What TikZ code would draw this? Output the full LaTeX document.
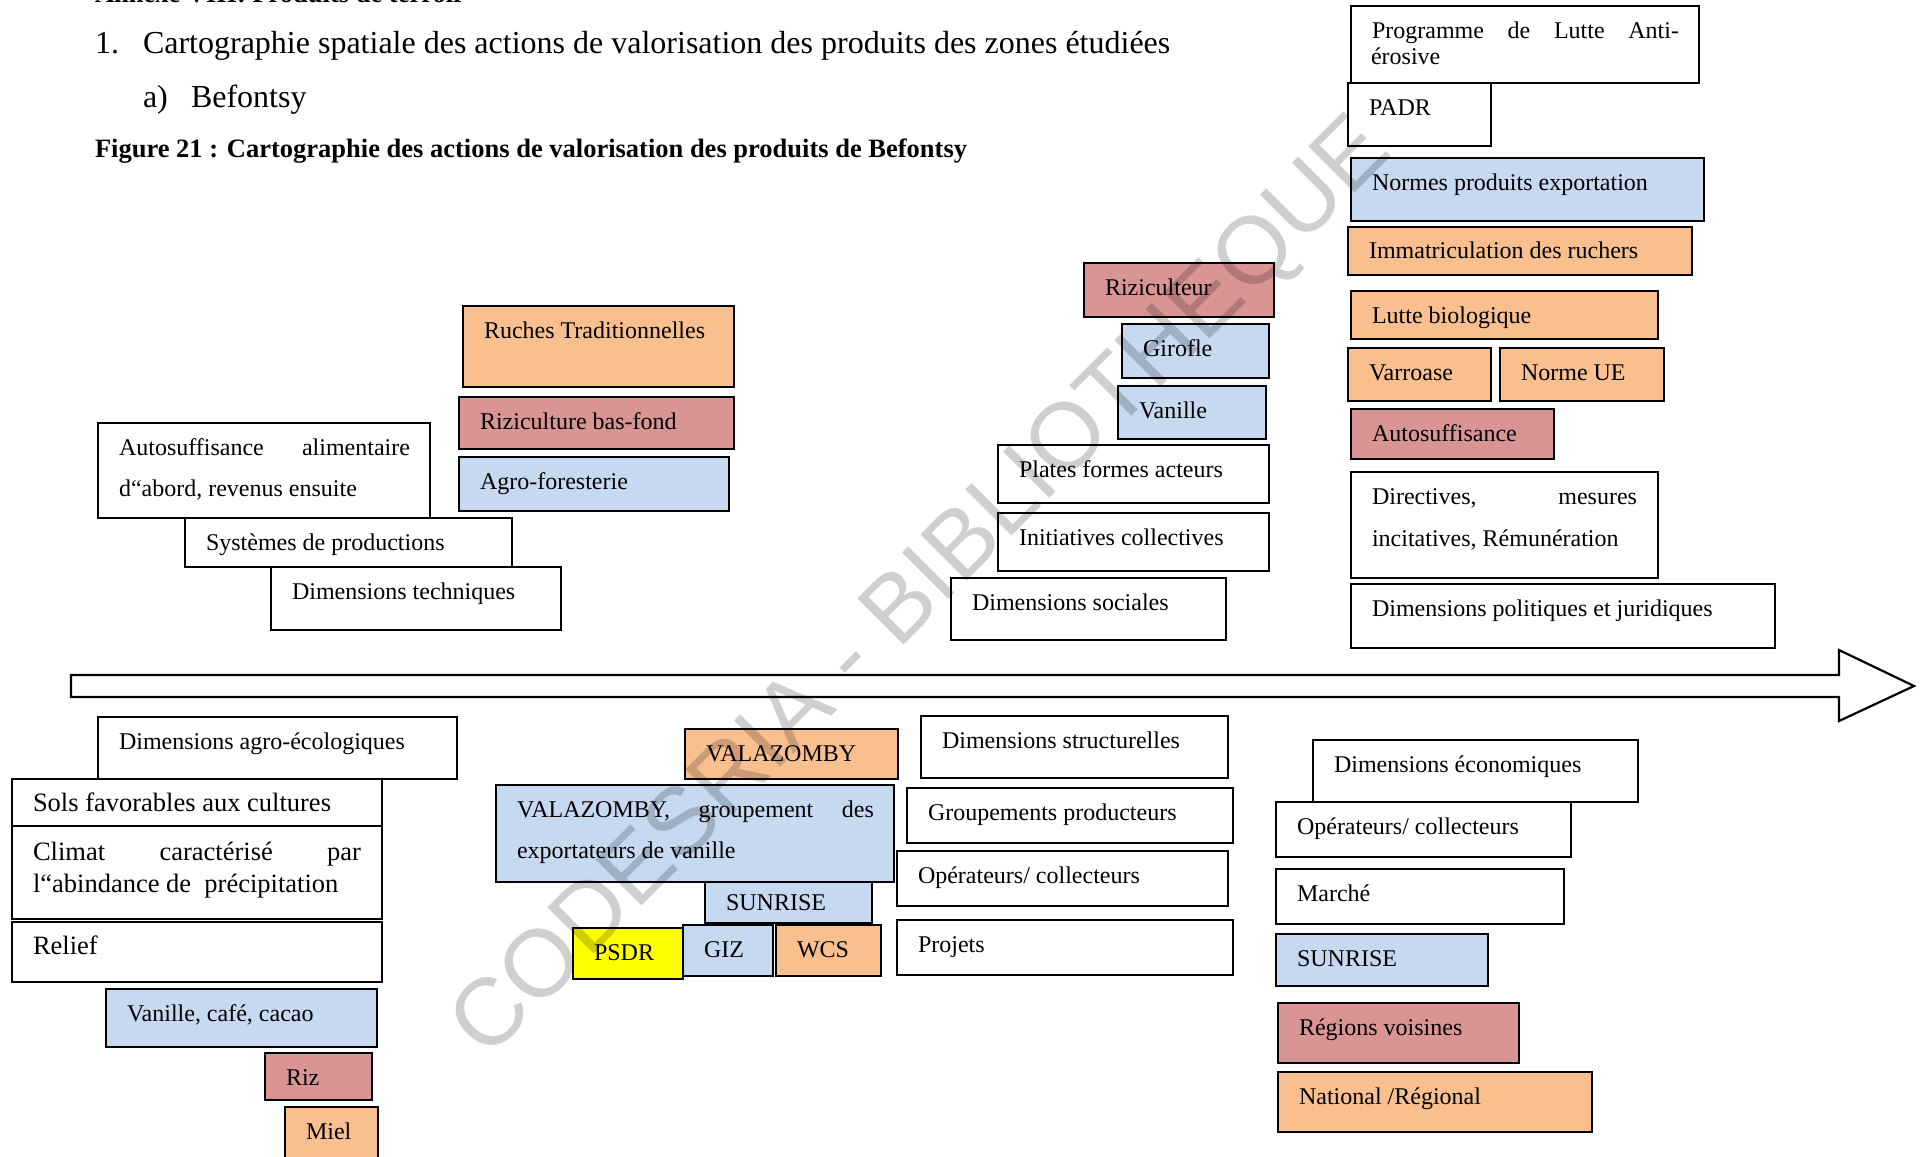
\documentclass[tikz,border=0pt]{standalone}
\usepackage{fontspec}
\setmainfont{Liberation Serif}
\newfontfamily\wmfont{Liberation Sans}
\definecolor{cOr}{HTML}{F9BF8F}
\definecolor{cRe}{HTML}{D99594}
\definecolor{cBl}{HTML}{C6D9F1}
\definecolor{cYe}{HTML}{FFFF00}
\tikzset{
  boxst/.style={draw=black, line width=2pt, inner sep=0pt, outer sep=0pt, anchor=north west},
  txt/.style={inner sep=0pt, outer sep=0pt, anchor=base west, font=\fontsize{24}{29}\selectfont},
  bigtxt/.style={font=\fontsize{26.5}{32}\selectfont},
  titletxt/.style={inner sep=0pt, outer sep=0pt, anchor=base west, font=\fontsize{32}{37}\selectfont},
  boldtxt/.style={inner sep=0pt, outer sep=0pt, anchor=base west, font=\fontsize{26.5}{31}\selectfont\bfseries},
  arrowst/.style={draw=black, line width=2.2pt, fill=white, line join=miter},
  wmst/.style={inner sep=0pt, rotate=45, text=black, text opacity=0.19, font=\wmfont\fontsize{95}{95}\selectfont}
}
% #1 text options, #2 name, #3 x1, #4 y1, #5 x2, #6 y2, #7 fill, #8 text
\newcommand{\bx}[8][]{%
  \node[boxst, fill=#7, minimum width={(#5-#3)*1pt}, minimum height={(#6-#4)*1pt}] (#2) at (#3,#4) {};
  \node[txt,#1] (#2t) at (#3+21,#4+32) {#8};}
\begin{document}
\begin{tikzpicture}[x=1pt,y=-1pt]
\useasboundingbox (0,0) rectangle (1921,1156);
\fill[white] (0,0) rectangle (1921,1156);

% headings
\node[boldtxt] (h0) at (95,3) {Annexe VIII: Produits de terroir};
\node[titletxt] (h1n) at (95,53) {1.};
\node[titletxt] (h1) at (143,53) {Cartographie spatiale des actions de valorisation des produits des zones étudiées};
\node[titletxt] (h2n) at (143,107) {a)};
\node[titletxt] (h2) at (191,107) {Befontsy};
\node[boldtxt] (h3) at (95,157) {Figure 21 : Cartographie des actions de valorisation des produits de Befontsy};

% central arrow
\draw[arrowst] (71,675) -- (1839,675) -- (1839,650) -- (1914,686) -- (1839,721) -- (1839,697) -- (71,697) -- cycle;

% top left: dimensions techniques
\bx{ruch}{463}{306}{734}{387}{cOr}{Ruches Traditionnelles}
\bx{rizbf}{459}{397}{734}{449}{cRe}{Riziculture bas-fond}
\bx{agro}{459}{457}{729}{511}{cBl}{Agro-foresterie}
\bx{auto}{98}{423}{430}{518}{white}{\makebox[291pt][s]{Autosuffisance alimentaire}}
\node[txt] (auto2) at (119,496) {d“abord, revenus ensuite};
\bx{sysp}{185}{518}{512}{567}{white}{Systèmes de productions}
\bx{dtech}{271}{567}{561}{630}{white}{Dimensions techniques}

% top middle: dimensions sociales
\bx{rizc}{1084}{263}{1274}{317}{cRe}{Riziculteur}
\bx{giro}{1122}{324}{1269}{378}{cBl}{Girofle}
\bx{vani}{1118}{386}{1266}{439}{cBl}{Vanille}
\bx{plat}{998}{445}{1269}{503}{white}{Plates formes acteurs}
\bx{init}{998}{513}{1269}{571}{white}{Initiatives collectives}
\bx{dsoc}{951}{578}{1226}{640}{white}{Dimensions sociales}

% top right: dimensions politiques et juridiques
\bx{prog}{1351}{6}{1699}{83}{white}{\makebox[307pt][s]{Programme de Lutte Anti-}}
\node[txt] (prog2) at (1371,65) {érosive};
\bx{padr}{1348}{83}{1491}{146}{white}{PADR}
\bx{norm}{1351}{158}{1704}{221}{cBl}{Normes produits exportation}
\bx[yshift=1pt]{imma}{1348}{227}{1692}{275}{cOr}{Immatriculation des ruchers}
\bx{lutb}{1351}{291}{1658}{339}{cOr}{Lutte biologique}
\bx{varr}{1348}{348}{1491}{401}{cOr}{Varroase}
\bx{nue}{1500}{348}{1664}{401}{cOr}{Norme UE}
\bx{auts}{1351}{409}{1554}{459}{cRe}{Autosuffisance}
\bx{dire}{1351}{472}{1658}{578}{white}{\makebox[265pt][s]{Directives, mesures}}
\node[txt] (dire2) at (1372,546) {incitatives, Rémunération};
\bx{dpol}{1351}{584}{1775}{648}{white}{Dimensions politiques et juridiques}

% bottom left: dimensions agro-ecologiques
\bx{dagr}{98}{717}{457}{779}{white}{Dimensions agro-écologiques}
\bx[bigtxt]{sols}{12}{779}{382}{826}{white}{Sols favorables aux cultures}
\bx[bigtxt,yshift=-2pt]{clim}{12}{826}{382}{919}{white}{\makebox[328pt][s]{Climat caractérisé par}}
\node[txt,bigtxt] (clim2) at (33,892) {l“abindance de\ \ précipitation};
\bx[bigtxt]{reli}{12}{922}{382}{982}{white}{Relief}
\bx{vcc}{106}{989}{377}{1047}{cBl}{Vanille, café, cacao}
\bx{riz}{265}{1053}{372}{1100}{cRe}{Riz}
\bx{miel}{285}{1107}{378}{1180}{cOr}{Miel}

% bottom middle: dimensions structurelles
\bx{vala}{685}{729}{898}{779}{cOr}{VALAZOMBY}
\bx{valg}{496}{785}{894}{882}{cBl}{\makebox[357pt][s]{VALAZOMBY, groupement des}}
\node[txt] (valg2) at (517,858) {exportateurs de vanille};
\bx[yshift=4pt]{sunr}{705}{882}{872}{923}{cBl}{SUNRISE}
\bx{giz}{683}{925}{773}{976}{cBl}{GIZ}
\bx{wcs}{776}{925}{881}{976}{cOr}{WCS}
\bx{psdr}{573}{928}{683}{979}{cYe}{PSDR}
\bx{dstr}{921}{716}{1228}{778}{white}{Dimensions structurelles}
\bx{grpp}{907}{788}{1233}{843}{white}{Groupements producteurs}
\bx{opc1}{897}{851}{1228}{906}{white}{Opérateurs/ collecteurs}
\bx{proj}{897}{920}{1233}{975}{white}{Projets}

% bottom right: dimensions economiques
\bx{deco}{1313}{740}{1638}{802}{white}{Dimensions économiques}
\bx{opc2}{1276}{802}{1571}{857}{white}{Opérateurs/ collecteurs}
\bx{marc}{1276}{869}{1564}{924}{white}{Marché}
\bx{sun2}{1276}{934}{1488}{986}{cBl}{SUNRISE}
\bx{regv}{1278}{1003}{1519}{1063}{cRe}{Régions voisines}
\bx{natr}{1278}{1072}{1592}{1132}{cOr}{National /Régional}

% watermark
\node[wmst] (wm) at (924,590) {CODESRIA - BIBLIOTHEQUE};
\end{tikzpicture}
\end{document}
